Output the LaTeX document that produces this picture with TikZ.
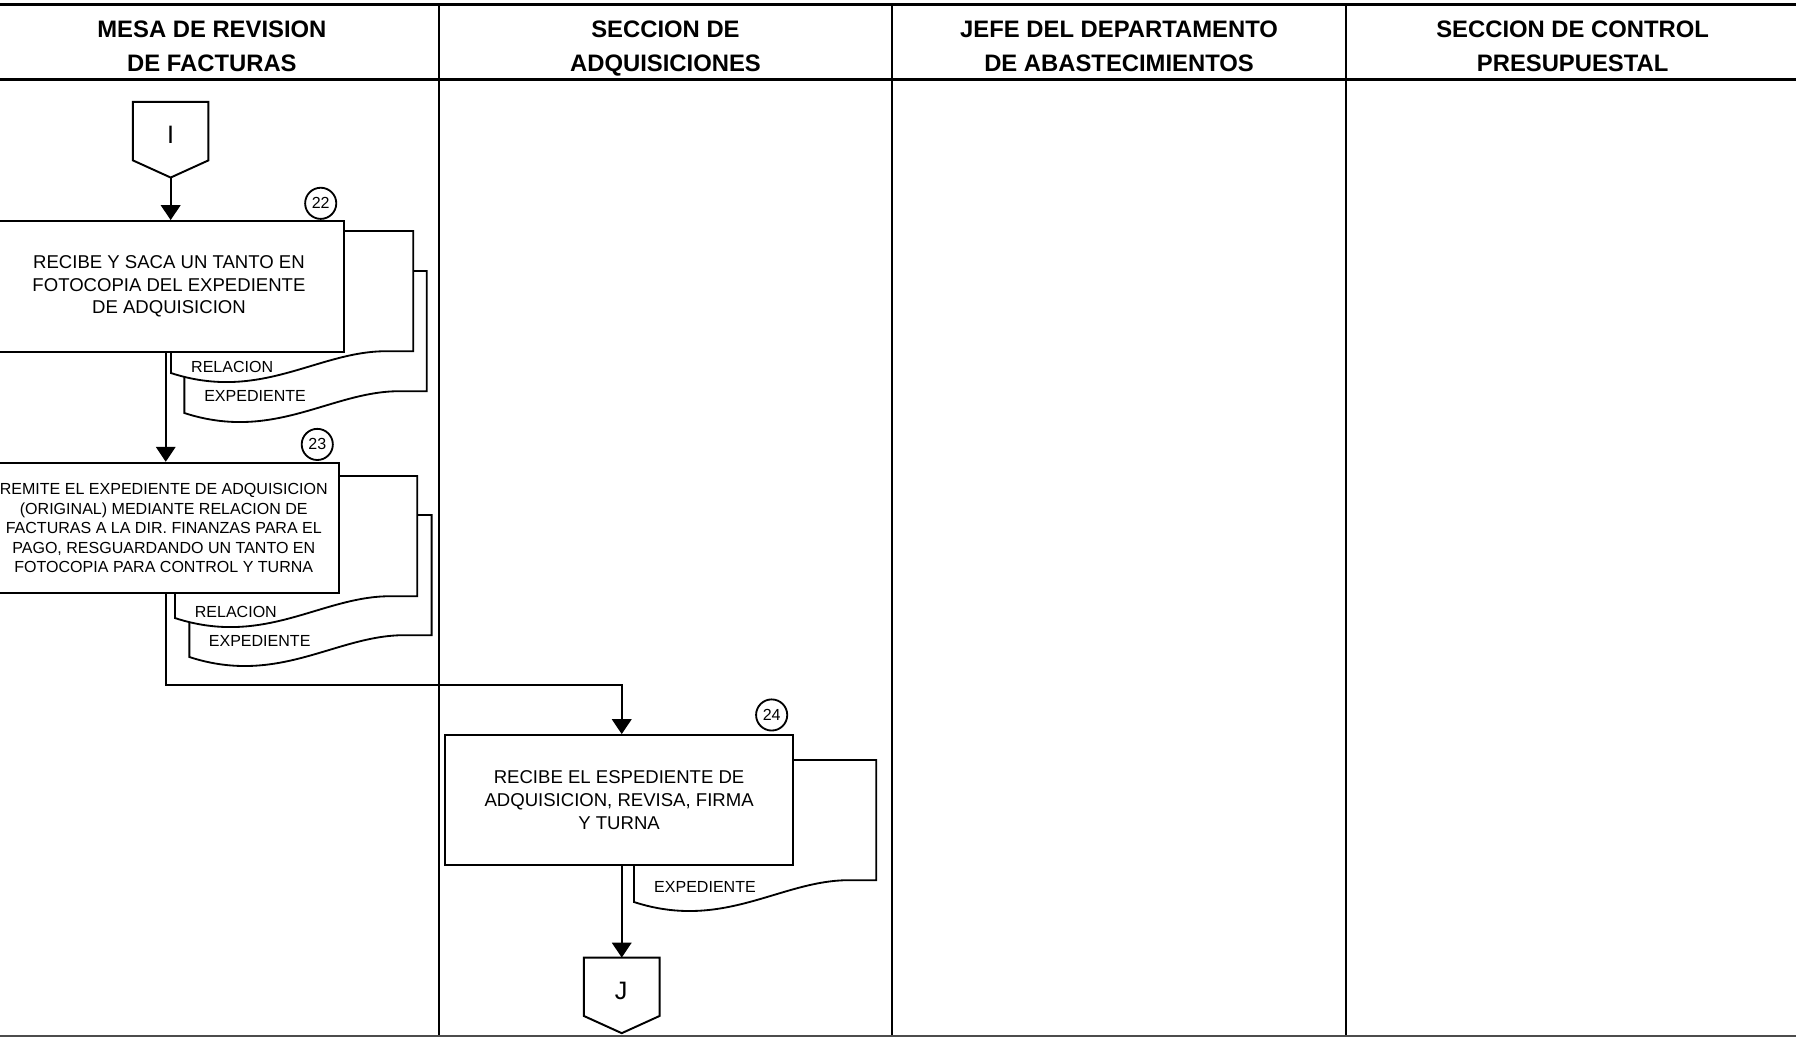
\documentclass[tikz,border=0pt]{standalone}
\usepackage{fontspec}
\setmainfont{Liberation Sans}
\usetikzlibrary{arrows.meta,calc}
\tikzset{
  lane/.style={line width=0.9pt},
  headline/.style={line width=1.3pt},
  boxnode/.style={draw, line width=0.85pt, fill=white, inner sep=0pt, align=center},
  docline/.style={draw, line width=0.8pt, fill=white},
  arr/.style={line width=0.85pt, -{Triangle[width=8.5pt,length=6.5pt]}},
  plain/.style={line width=0.85pt},
  numcirc/.style={draw, circle, line width=0.8pt, minimum size=13.6pt, inner sep=0pt, font=\fontsize{7}{8}\selectfont},
  lbl/.style={inner sep=0pt, font=\fontsize{7}{8}\selectfont},
  headtxt/.style={inner sep=0pt, align=center, font=\bfseries\fontsize{10.4}{15}\selectfont},
  conn/.style={draw, line width=0.85pt, fill=white}
}
\newcommand\DocShape[2]{%
  \path[docline] (#1,#2) -- ({#1+211.5},#2) -- ({#1+211.5},{#2+105}) -- ({#1+191.5},{#2+105})
    .. controls ({#1+130},{#2+103}) and ({#1+80},{#2+150}) .. (#1,{#2+124}) -- cycle;}
\newcommand\OffPage[3]{% center x, top y, name
  \path[conn] ({#1-33},#2) -- ({#1+33},#2) -- ({#1+33},{#2+51}) -- (#1,{#2+66}) -- ({#1-33},{#2+51}) -- cycle;
  \coordinate (#3top) at (#1,#2);
  \coordinate (#3bot) at (#1,{#2+66});}
\begin{document}
\begin{tikzpicture}[x=0.5pt,y=-0.5pt]
\useasboundingbox (0,0) rectangle (1568,905);
\clip (0,0) rectangle (1568,905);
% lanes
\draw[headline] (0,3.5) -- (1568,3.5);
\draw[headline] (0,69.8) -- (1568,69.8);
\draw[lane] (383,3.5) -- (383,905);
\draw[lane] (779,3.5) -- (779,905);
\draw[lane] (1175,3.5) -- (1175,905);
\draw[line width=0.6pt, black!70] (0,904.6) -- (1568,904.6);
% headers
\node[headtxt] (h1) at (185,41.5) {MESA DE REVISION\strut\\DE FACTURAS\strut};
\node[headtxt] (h2) at (581,41.5) {SECCION DE\strut\\ADQUISICIONES\strut};
\node[headtxt] (h3) at (977,41.5) {JEFE DEL DEPARTAMENTO\strut\\DE ABASTECIMIENTOS\strut};
\node[headtxt] (h4) at (1373,41.5) {SECCION DE CONTROL\strut\\PRESUPUESTAL\strut};
% connector I
\OffPage{149}{89}{I}
\node[font=\fontsize{11}{12}\selectfont, inner sep=0pt] (Itxt) at (149,118) {I};
% step 22
\DocShape{161}{236.6}
\DocShape{149.3}{201.7}
\node[boxnode, minimum width=152.5pt, minimum height=57pt, font=\fontsize{8.1}{10}\selectfont] (b22) at (147.5,250)
  {RECIBE Y SACA UN TANTO EN\\FOTOCOPIA DEL EXPEDIENTE\\DE ADQUISICION};
\node[numcirc] (n22) at (280,177.5) {22};
\node[lbl] (l22a) at (202.7,320) {RELACION};
\node[lbl] (l22b) at (222.7,345.7) {EXPEDIENTE};
\draw[arr] (Ibot) -- (Ibot |- b22.north);
% step 23
\DocShape{165.3}{449.6}
\DocShape{152.8}{415.6}
\node[boxnode, minimum width=153pt, minimum height=57pt, font=\fontsize{7}{8.5}\selectfont] (b23) at (143,461)
  {REMITE EL EXPEDIENTE DE ADQUISICION\\(ORIGINAL) MEDIANTE RELACION DE\\FACTURAS A LA DIR. FINANZAS PARA EL\\PAGO, RESGUARDANDO UN TANTO EN\\FOTOCOPIA PARA CONTROL Y TURNA};
\node[numcirc] (n23) at (277,388) {23};
\node[lbl] (l23a) at (205.9,534) {RELACION};
\node[lbl] (l23b) at (226.7,559.3) {EXPEDIENTE};
\coordinate (ax) at (144.7,0);
\draw[arr] (b22.south -| ax) -- (b23.north -| ax);
% step 24
\DocShape{553.5}{663.5}
\node[boxnode, minimum width=152pt, minimum height=56.75pt, font=\fontsize{8.1}{10}\selectfont] (b24) at (540.5,698.5)
  {RECIBE EL ESPEDIENTE DE\\ADQUISICION, REVISA, FIRMA\\Y TURNA};
\node[numcirc] (n24) at (673.7,624.2) {24};
\node[lbl] (l24) at (615.5,774) {EXPEDIENTE};
\coordinate (turn) at (542.8,598);
\draw[arr] (b23.south -| ax) |- (turn) -- (turn |- b24.north);
% connector J
\OffPage{542.8}{836}{J}
\node[font=\fontsize{11}{12}\selectfont, inner sep=0pt] (Jtxt) at (542.4,865) {J};
\draw[arr] (turn |- b24.south) -- (Jtop);
\end{tikzpicture}
\end{document}
